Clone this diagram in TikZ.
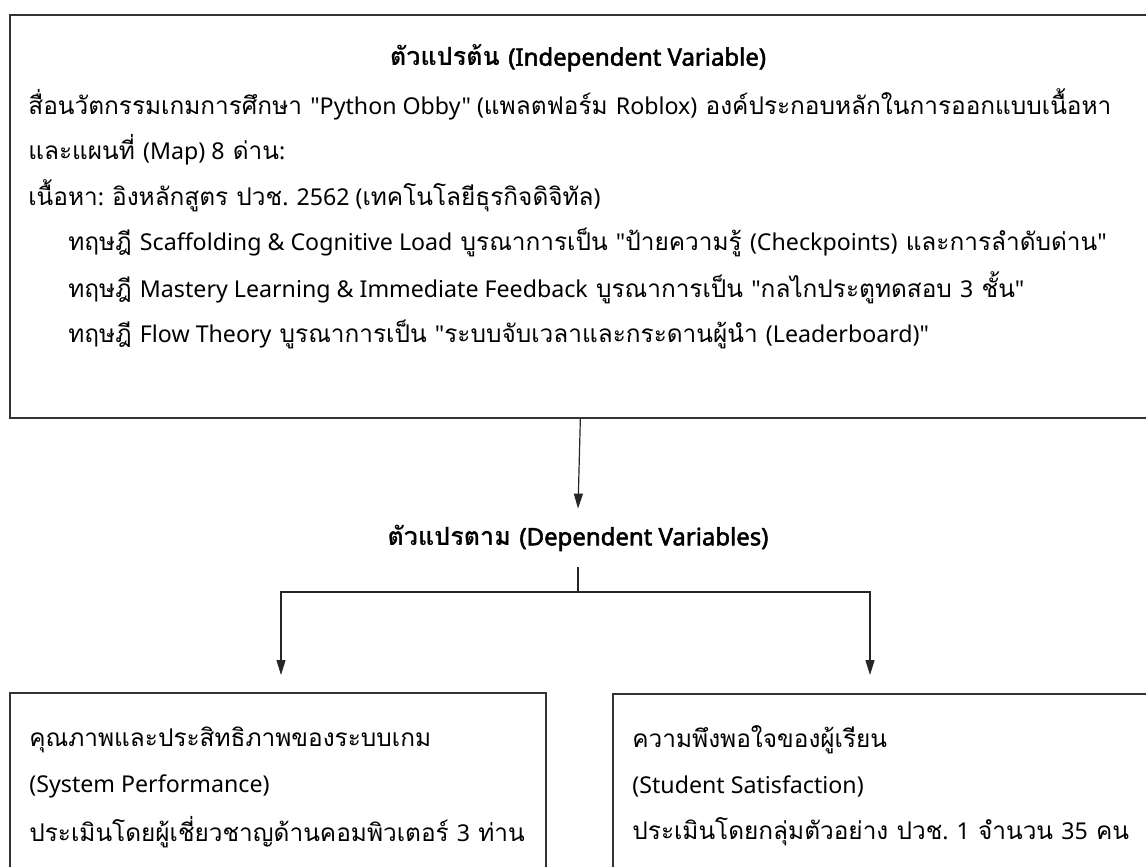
\documentclass[tikz,border=0pt]{standalone}
\usepackage{fontspec}
\setmainfont[Script=Thai]{Loma}
\newfontfamily\latf[Scale=0.95]{Noto Sans}
\newfontfamily\latfb[Scale=0.95,FakeBold=2.2]{Noto Sans}
\newcommand{\enf}[1]{{\latf #1}}
\newcommand{\enfb}[1]{{\latfb #1}}
\usetikzlibrary{arrows.meta}
\begin{document}
\begin{tikzpicture}[x=0.5pt,y=-0.5pt,
  boxline/.style={draw=black!80, line width=0.85pt, inner sep=0pt, anchor=north west},
  txt/.style={anchor=west, inner sep=0pt, font=\fontsize{12.2}{14}\selectfont},
  ttl/.style={anchor=center, inner sep=0pt, font=\fontsize{12.6}{14}\selectfont\bfseries},
  conn/.style={draw=black!85, line width=0.6pt},
  arr/.style={conn, -{Triangle[length=7.5pt,width=4.5pt]}}]
\useasboundingbox (0,0) rectangle (1146,867);
% top box
\node[boxline, minimum width=570.5pt, minimum height=201.5pt] (top) at (9,14) {};
\node[ttl] (t0) at (578,58) {ตัวแปรต้น \enfb{(Independent Variable)}};
\node[txt] (t1) at (28,104) {สื่อนวัตกรรมเกมการศึกษา \enf{"Python Obby" (}แพลตฟอร์ม \enf{Roblox)} องค์ประกอบหลักในการออกแบบเนื้อหา};
\node[txt] (t2) at (28,150) {และแผนที่ \enf{(Map) 8} ด่าน\enf{:}};
\node[txt] (t3) at (28,196) {เนื้อหา\enf{: }อิงหลักสูตร ปวช\enf{. 2562 (}เทคโนโลยีธุรกิจดิจิทัล\enf{)}};
\node[txt] (t4) at (68,242) {ทฤษฎี \enf{Scaffolding \& Cognitive Load} บูรณาการเป็น \enf{"}ป้ายความรู้ \enf{(Checkpoints)} และการลำดับด่าน\enf{"}};
\node[txt] (t5) at (68,288) {ทฤษฎี \enf{Mastery Learning \& Immediate Feedback} บูรณาการเป็น \enf{"}กลไกประตูทดสอบ \enf{3} ชั้น\enf{"}};
\node[txt] (t6) at (68,334) {ทฤษฎี \enf{Flow Theory} บูรณาการเป็น \enf{"}ระบบจับเวลาและกระดานผู้นำ \enf{(Leaderboard)"}};
% dependent label
\node[ttl, minimum height=29pt] (dep) at (578,538) {ตัวแปรตาม \enfb{(Dependent Variables)}};
\coordinate (split) at (578,592);
\coordinate (la) at (281,675);
\coordinate (ra) at (870,675);
% bottom boxes
\node[boxline, minimum width=268pt, minimum height=95pt] (lbox) at (9,692) {};
\node[boxline, minimum width=270pt, minimum height=95pt] (rbox) at (612,693) {};
\node[txt] (l1) at (29,740) {คุณภาพและประสิทธิภาพของระบบเกม};
\node[txt] (l2) at (29,786) {\enf{(System Performance)}};
\node[txt] (l3) at (29,832) {ประเมินโดยผู้เชี่ยวชาญด้านคอมพิวเตอร์ \enf{3} ท่าน};
\node[txt] (r1) at (632,740) {ความพึงพอใจของผู้เรียน};
\node[txt] (r2) at (632,786) {\enf{(Student Satisfaction)}};
\node[txt] (r3) at (632,832) {ประเมินโดยกลุ่มตัวอย่าง ปวช\enf{. 1} จำนวน \enf{35} คน};
% connectors
\draw[arr] (top.south) -- (dep.north);
\draw[conn] (dep.south) -- (split);
\draw[arr] (split) -| (la);
\draw[arr] (split) -| (ra);
\end{tikzpicture}
\end{document}
